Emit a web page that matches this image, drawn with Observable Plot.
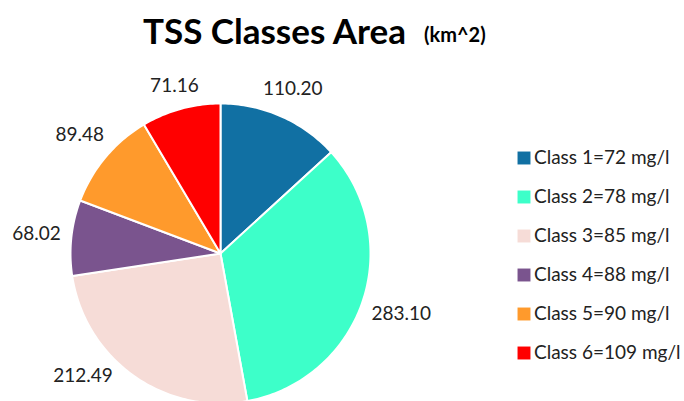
<!DOCTYPE html>
<html>
<head>
<meta charset="utf-8">
<script src="https://cdn.jsdelivr.net/npm/d3@7"></script>
<script src="https://cdn.jsdelivr.net/npm/@observablehq/plot@0.6"></script>
<style>
  html, body { margin: 0; padding: 0; background: #fff; }
  #wrap { width: 684px; height: 401px; position: relative; overflow: hidden; font-family: Lato, "Open Sans", sans-serif; }
  #title { height: 62px; position: relative; }
  #title .main { position: absolute; left: 143px; top: 9px; font-size: 35px; font-weight: 700; color: #000; white-space: nowrap; }
  #title .unit { position: absolute; left: 424px; top: 22px; font-size: 20px; font-weight: 700; color: #000; white-space: nowrap; }
  svg { display: block; }
</style>
</head>
<body>
<div id="wrap">
  <div id="title"><span class="main">TSS Classes Area</span><span class="unit">(km^2)</span></div>
  <div id="chart"></div>
</div>
<script>
const classes = ["Class 1=72 mg/l", "Class 2=78 mg/l", "Class 3=85 mg/l", "Class 4=88 mg/l", "Class 5=90 mg/l", "Class 6=109 mg/l"];
const areas = [110.20, 283.10, 212.49, 68.02, 89.48, 71.16];
const labels = ["110.20", "283.10", "212.49", "68.02", "89.48", "71.16"];
const colors = ["#1170a3", "#3dffc9", "#f6dcd7", "#7a548e", "#ff9a2c", "#ff0000"];

const W = 684, H = 339;
const cx = 220, cy = 191, R = 150;
const labelSize = 19;
const ctx = document.createElement("canvas").getContext("2d");
ctx.font = labelSize + "px Lato";

const total = d3.sum(areas);
const polys = [];
const labelData = [];
const yMaxLabel = H - 26;
let acc = 0;
areas.forEach((v, i) => {
  const a0 = acc / total * 2 * Math.PI;
  acc += v;
  const a1 = acc / total * 2 * Math.PI;
  polys.push({cls: classes[i], x: cx, y: cy});
  const n = Math.max(2, Math.ceil((a1 - a0) / (Math.PI / 180)));
  for (let k = 0; k <= n; k++) {
    const a = a0 + (a1 - a0) * k / n;
    polys.push({cls: classes[i], x: cx + R * Math.sin(a), y: cy - R * Math.cos(a)});
  }
  let am = (a0 + a1) / 2;
  const hw = ctx.measureText(labels[i]).width / 2, hh = 8;
  let s = Math.sin(am), c = Math.cos(am);
  const d = R + 10 + Math.abs(s) * hw + Math.abs(c) * hh;
  let lx = cx + d * s, ly = cy - d * c;
  if (ly > yMaxLabel) {
    // rotate the label along its circle until it fits inside the frame
    const cc = -(yMaxLabel - cy) / d;
    const sign = s < 0 ? -1 : 1;
    lx = cx + sign * d * Math.sqrt(1 - cc * cc);
    ly = yMaxLabel;
  }
  labelData.push({text: labels[i], x: lx, y: ly});
});

const legend = classes.map((c, i) => ({cls: c, i}));
const legX = 523.5, legY = 95.5, legStep = 39;

const plot = Plot.plot({
  width: W, height: H,
  margin: 0,
  x: {domain: [0, W], range: [0, W], axis: null},
  y: {domain: [0, H], range: [0, H], axis: null},
  color: {domain: classes, range: colors},
  style: {fontFamily: "Lato, 'Open Sans', sans-serif", background: "#fff"},
  marks: [
    Plot.line(polys, {x: "x", y: "y", z: "cls", fill: "cls", stroke: "#fff", strokeWidth: 2, curve: "linear-closed", strokeLinejoin: "round"}),
    Plot.text(labelData, {x: "x", y: "y", text: "text", fontSize: labelSize, fill: "#222", textAnchor: "middle", lineAnchor: "middle"}),
    Plot.dot(legend, {x: () => legX, y: d => legY + d.i * legStep, fill: "cls", symbol: "square", r: 7.3}),
    Plot.text(legend, {x: () => legX + 10, y: d => legY + d.i * legStep, text: "cls", fontSize: 19, fill: "#222", textAnchor: "start", lineAnchor: "middle"})
  ]
});
document.getElementById("chart").appendChild(plot);
</script>
</body>
</html>
